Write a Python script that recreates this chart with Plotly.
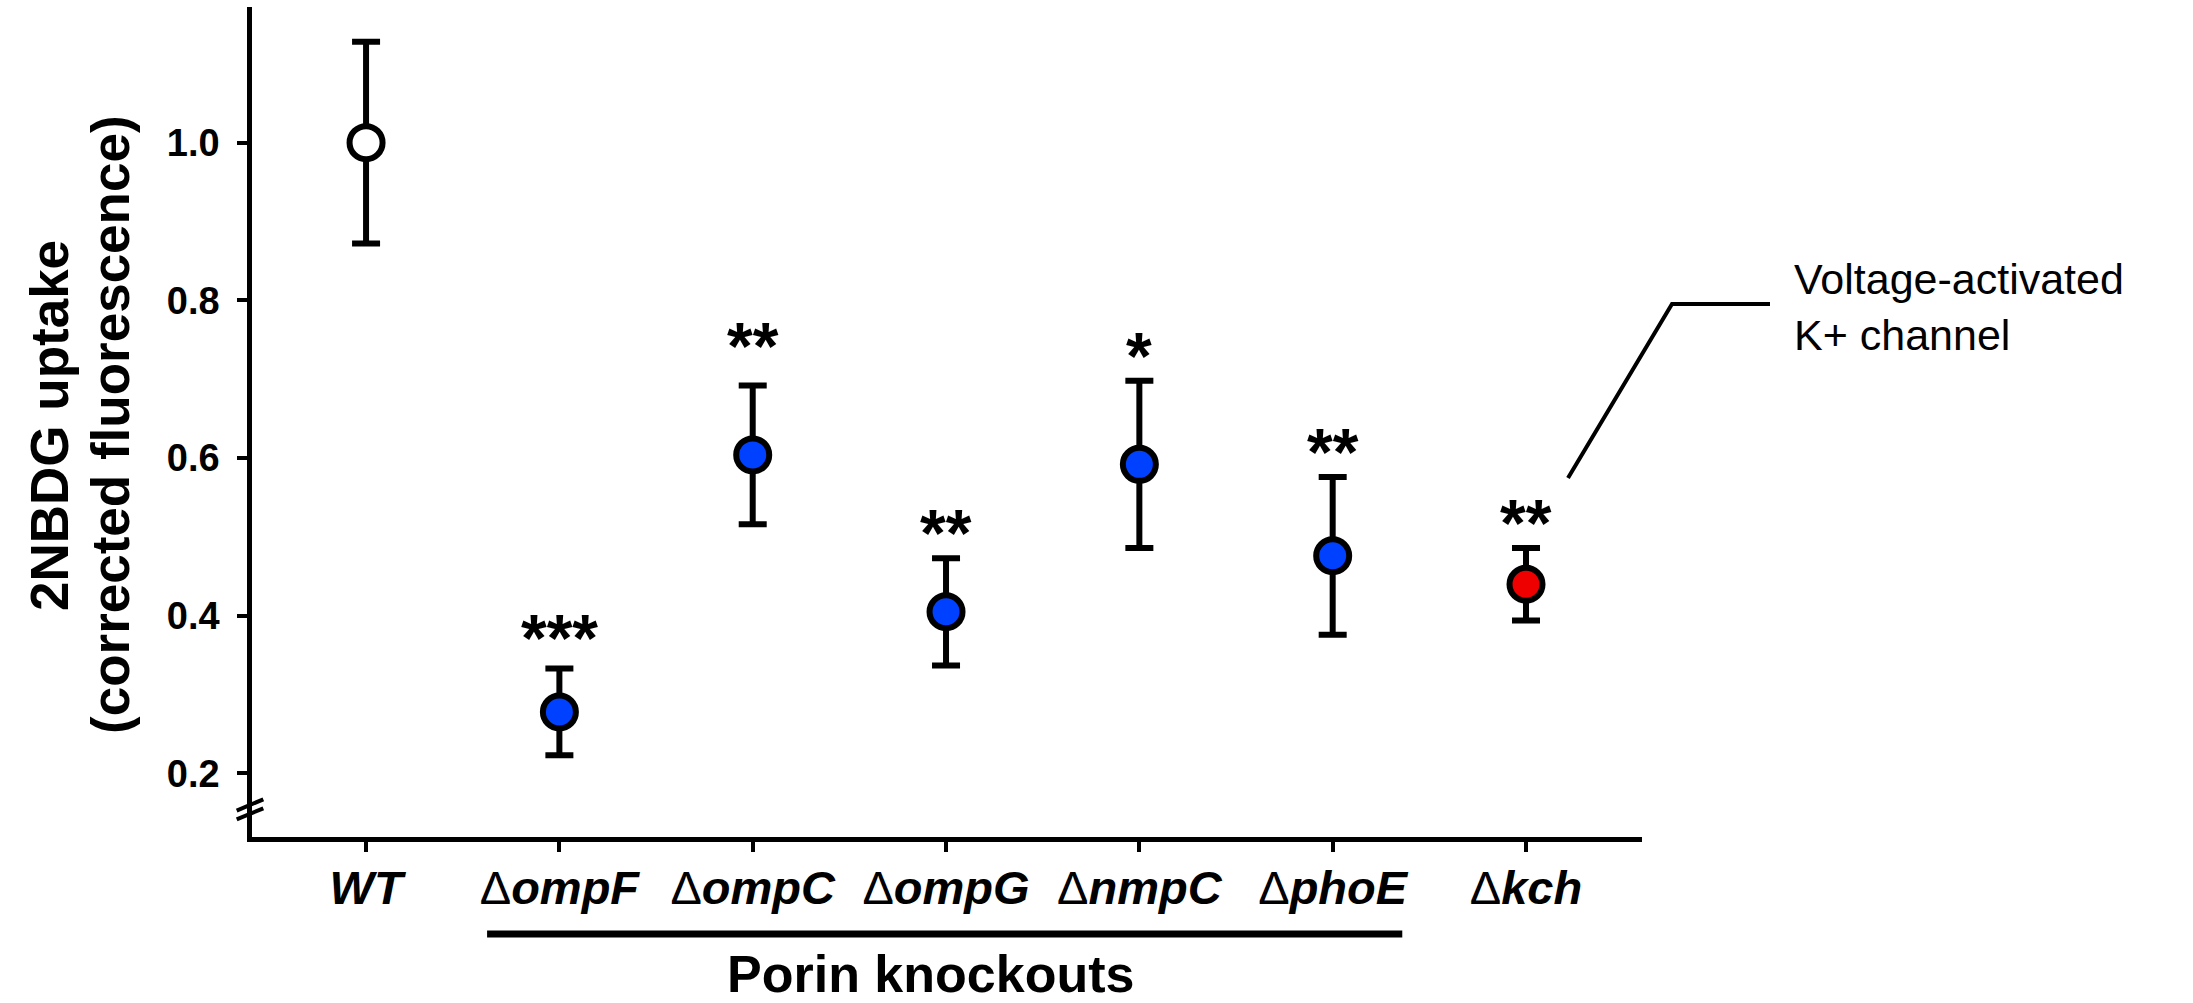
import plotly.graph_objects as go

# --- data -------------------------------------------------------------
strains = ["WT", "ompF", "ompC", "ompG", "nmpC", "phoE", "kch"]
uptake = [1.000, 0.278, 0.604, 0.405, 0.592, 0.476, 0.440]
sem = [0.128, 0.055, 0.088, 0.068, 0.106, 0.100, 0.046]
significance = ["", "***", "**", "**", "*", "**", "**"]
groups = ["wt", "porin", "porin", "porin", "porin", "porin", "channel"]
y_ticks = [0.2, 0.4, 0.6, 0.8, 1.0]

# --- styling ----------------------------------------------------------
FONT = "Liberation Sans, Arial, sans-serif"
FILL = {"wt": "#ffffff", "porin": "#0040ff", "channel": "#ee0000"}
STAR_GAP = [0, 44, 52, 38, 38, 38, 38]   # px between error cap and star centre

FIG_W, FIG_H = 2193, 1003
PLOT_L, PLOT_R, PLOT_T, PLOT_B = 252, 1642, 7, 837
X_RANGE = [-0.59, 6.60]
Y_RANGE = [0.1194, 1.172]


def paper_x(px):
    return (px - PLOT_L) / (PLOT_R - PLOT_L)


def paper_y(py):
    return (PLOT_B - py) / (PLOT_B - PLOT_T)


def data_to_paper_x(x):
    return (x - X_RANGE[0]) / (X_RANGE[1] - X_RANGE[0])


x_pos = list(range(len(strains)))
tick_text = [
    ("<b><i>%s</i></b>" % s) if g == "wt" else ("Δ<b><i>%s</i></b>" % s)
    for s, g in zip(strains, groups)
]

fig = go.Figure()
fig.add_trace(go.Scatter(
    x=x_pos,
    y=uptake,
    mode="markers",
    marker=dict(size=33, color=[FILL[g] for g in groups],
                line=dict(color="black", width=6)),
    error_y=dict(type="data", array=sem, visible=True,
                 color="black", thickness=6, width=14),
    showlegend=False,
    hoverinfo="skip",
))

annotations = []
# significance stars above each error bar
for i, (m, e, s) in enumerate(zip(uptake, sem, significance)):
    if not s:
        continue
    annotations.append(dict(
        x=i, y=m + e, xref="x", yref="y", text=s, showarrow=False,
        xanchor="center", yanchor="bottom", yshift=STAR_GAP[i] - 52,
        font=dict(family=FONT, size=66, color="black", weight="bold"),
    ))

# y-axis title, one annotation per line
for text, cx in [("2NBDG uptake", 49), ("(corrected fluorescence)", 110)]:
    annotations.append(dict(
        x=paper_x(cx), y=paper_y(425), xref="paper", yref="paper",
        text=text, textangle=-90,
        showarrow=False, xanchor="center", yanchor="middle",
        font=dict(family=FONT, size=53, color="black", weight="bold"),
    ))

# group label under the porin knockouts
annotations.append(dict(
    x=paper_x(930), y=paper_y(974), xref="paper", yref="paper",
    text="Porin knockouts", showarrow=False,
    xanchor="center", yanchor="middle",
    font=dict(family=FONT, size=52, color="black", weight="bold"),
))

# callout text for the K+ channel mutant
annotations.append(dict(
    x=paper_x(1792), y=paper_y(307), xref="paper", yref="paper",
    text="Voltage-activated<br>K+ channel", showarrow=False,
    xanchor="left", yanchor="middle", align="left",
    font=dict(family=FONT, size=43, color="black"),
))

shapes = []
# bar grouping the porin knockouts
shapes.append(dict(
    type="line", xref="paper", yref="paper",
    x0=data_to_paper_x(1 - 0.374), x1=data_to_paper_x(5 + 0.36),
    y0=paper_y(934), y1=paper_y(934),
    line=dict(color="black", width=7),
))
# callout leader line
p0 = (paper_x(1568), paper_y(478))
p1 = (paper_x(1672), paper_y(304))
p2 = (paper_x(1770), paper_y(304))
shapes.append(dict(
    type="path", xref="paper", yref="paper",
    path="M %f %f L %f %f L %f %f" % (p0[0], p0[1], p1[0], p1[1], p2[0], p2[1]),
    line=dict(color="black", width=4),
))
# axis break marks on the y axis
for (ya, yb) in [(810.7, 799.3), (819.3, 808.3)]:
    shapes.append(dict(
        type="line", xref="paper", yref="paper",
        x0=paper_x(236.7), y0=paper_y(ya), x1=paper_x(263.3), y1=paper_y(yb),
        line=dict(color="black", width=4),
    ))

fig.update_layout(
    width=FIG_W, height=FIG_H,
    margin=dict(l=PLOT_L, r=FIG_W - PLOT_R, t=PLOT_T, b=FIG_H - PLOT_B, pad=0),
    paper_bgcolor="white", plot_bgcolor="white",
    annotations=annotations, shapes=shapes,
    xaxis=dict(
        range=X_RANGE, tickmode="array", tickvals=x_pos, ticktext=tick_text,
        ticks="outside", ticklen=10, tickwidth=4, tickcolor="black",
        showline=True, linewidth=4.5, linecolor="black",
        showgrid=False, zeroline=False, ticklabelstandoff=-4,
        tickfont=dict(family=FONT, size=47, color="black"),
    ),
    yaxis=dict(
        range=Y_RANGE, tickmode="array", tickvals=y_ticks,
        ticktext=["%.1f" % v for v in y_ticks],
        ticks="outside", ticklen=10, tickwidth=4, tickcolor="black",
        showline=True, linewidth=4.5, linecolor="black",
        showgrid=False, zeroline=False, ticklabelstandoff=10,
        tickfont=dict(family=FONT, size=38, color="black", weight="bold"),
    ),
)

fig.write_html("out.html")
